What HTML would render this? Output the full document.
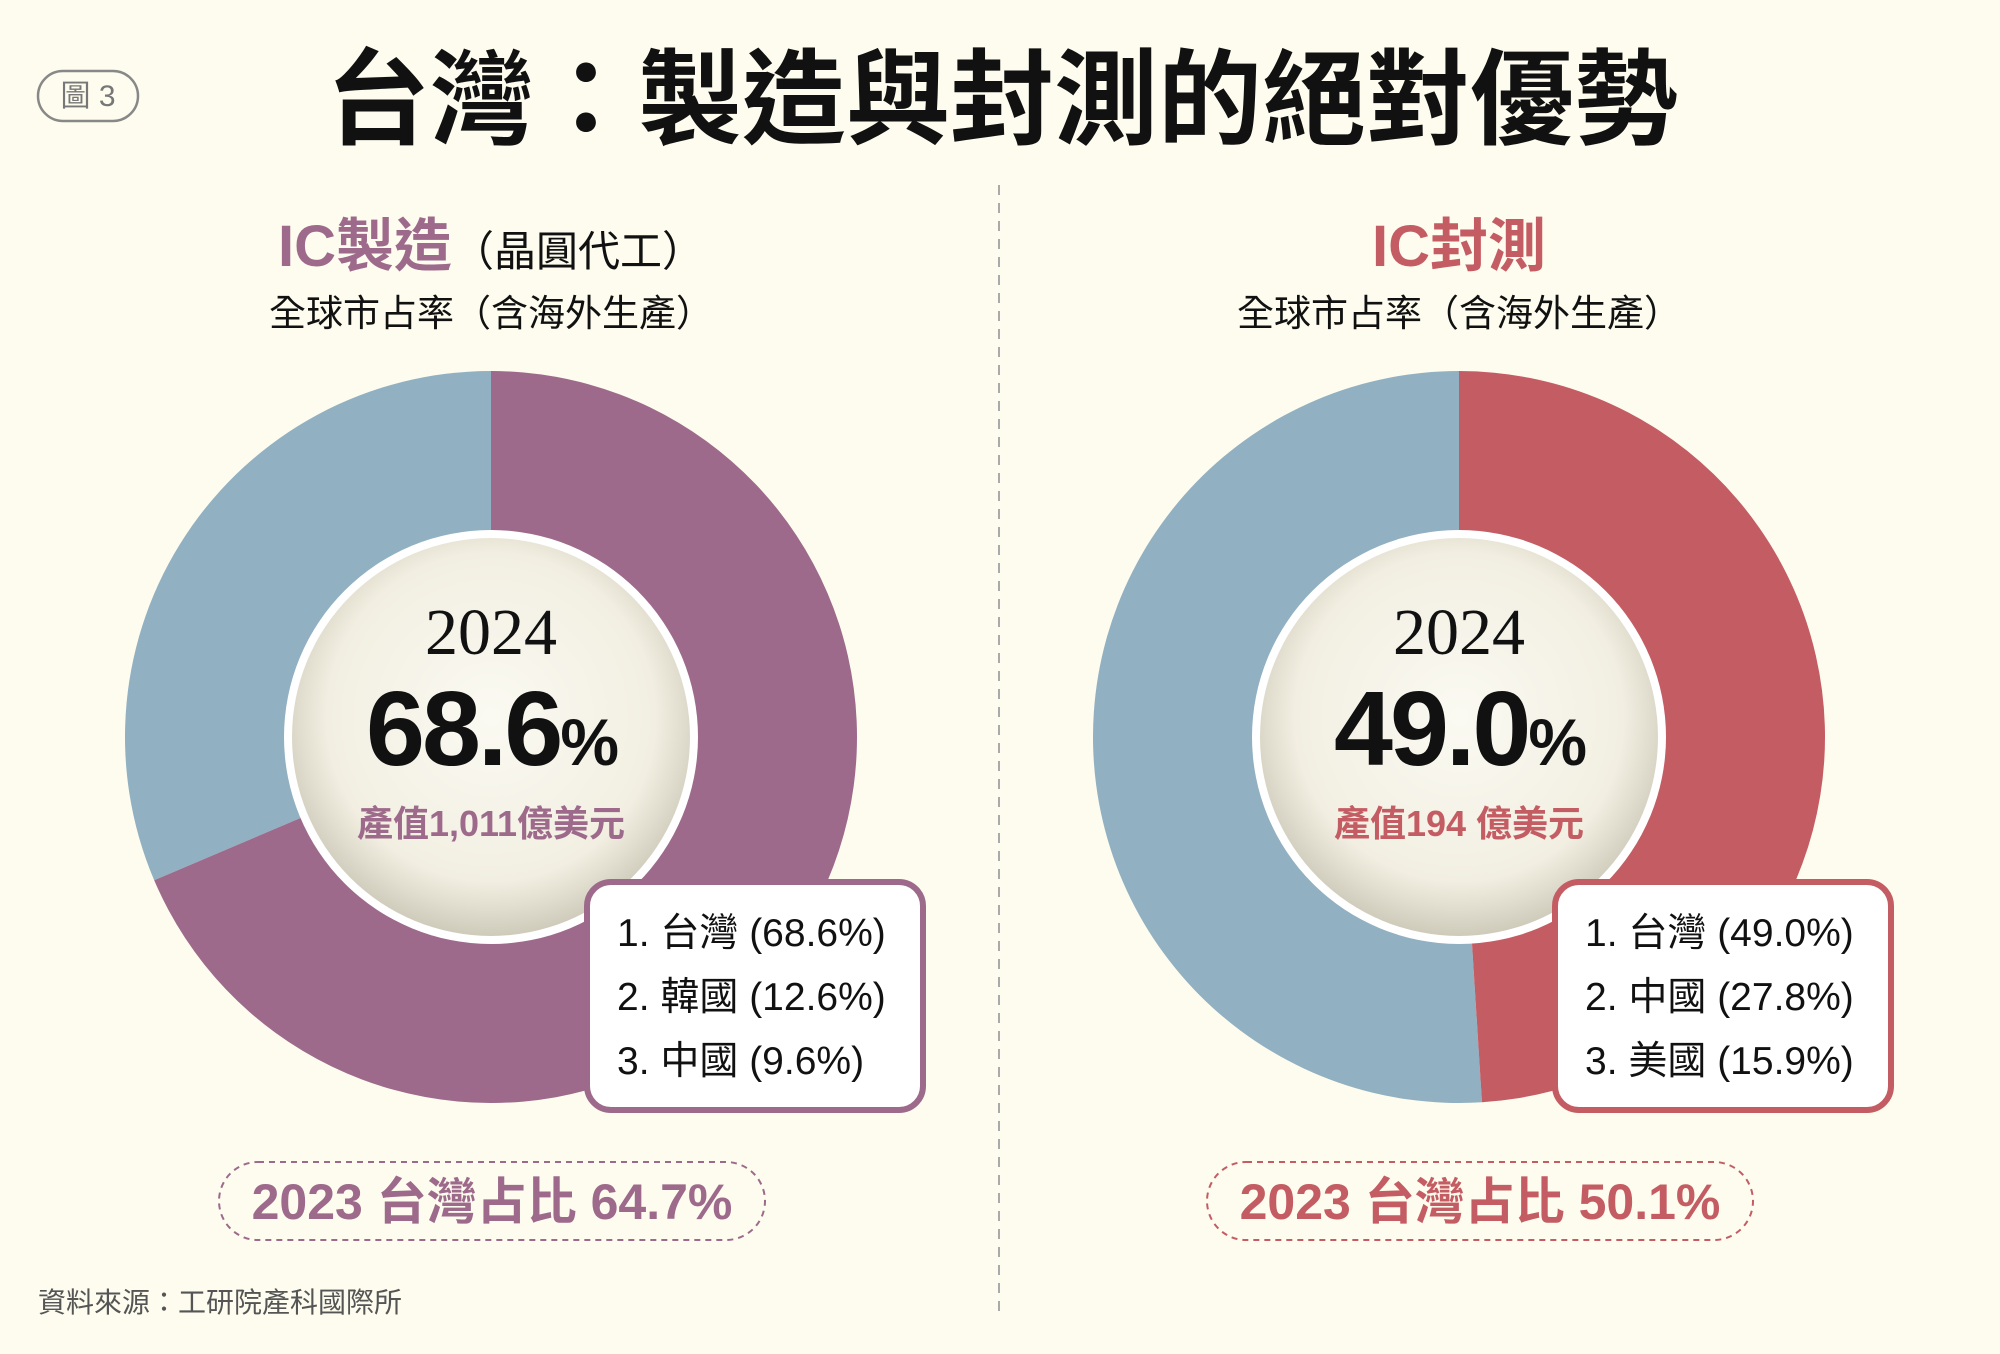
<!DOCTYPE html>
<html><head><meta charset="utf-8"><style>
html,body{margin:0;padding:0;background:#fdfcee;}
svg{display:block}
text{font-family:"Liberation Sans","Noto Sans CJK TC",sans-serif}
.serif{font-family:"Liberation Serif","Noto Serif CJK SC",serif}
</style></head><body>
<svg id="chart" width="2000" height="1354" viewBox="0 0 2000 1354">
<defs>
<radialGradient id="cg" cx="50%" cy="45%" r="55%">
<stop offset="0" stop-color="#fbfaf2"/><stop offset="0.75" stop-color="#f2efe2"/><stop offset="1" stop-color="#cfcbbb"/>
</radialGradient>
</defs>
<rect width="2000" height="1354" fill="#fdfcee"/>
<g>
<rect x="38" y="71" width="100" height="50" rx="25" fill="none" stroke="#888" stroke-width="2.5"/>
<text x="88" y="106" font-size="30" fill="#777" text-anchor="middle">圖 3</text>
</g>
<text x="1002" y="136" font-size="104" font-weight="bold" text-anchor="middle" fill="#111">台灣：製造與封測的絕對優勢</text>
<line x1="999" y1="185" x2="999" y2="1316" stroke="#aaa" stroke-width="2" stroke-dasharray="10 8"/>
<text x="38" y="1312" font-size="28" fill="#555">資料來源：工研院產科國際所</text>
<g id="panels"></g>
</svg>
<script>
const panelTitles = ["IC製造", "IC封測"];
const panelSubs = ["（晶圓代工）", ""];
const taiwanShare = [68.6, 49.0];
const outputValue = ["1,011", "194 "];
const rankLabels = [["1. 台灣 (68.6%)", "2. 韓國 (12.6%)", "3. 中國 (9.6%)"], ["1. 台灣 (49.0%)", "2. 中國 (27.8%)", "3. 美國 (15.9%)"]];
const share2023 = ["64.7%", "50.1%"];
const mainColors = ["#9d6a8b", "#c45c63"];
const otherColor = "#91b0c2";

const NS = "http://www.w3.org/2000/svg";
const root = document.getElementById('panels');
function mk(tag, attrs, parent, txt){
  const e = document.createElementNS(NS, tag);
  for (const k in attrs) e.setAttribute(k, attrs[k]);
  if (txt !== undefined) e.textContent = txt;
  parent.appendChild(e);
  return e;
}
function arc(cx, cy, r, a0, a1){
  const p = a => [cx + r*Math.sin(a), cy - r*Math.cos(a)];
  const [x0,y0] = p(a0), [x1,y1] = p(a1);
  const large = (a1 - a0) > Math.PI ? 1 : 0;
  return `M${cx},${cy} L${x0},${y0} A${r},${r} 0 ${large} 1 ${x1},${y1} Z`;
}
const centers = [491, 1459];
const pillShift = [0, 20];
const cy = 737, R = 366;
panelTitles.forEach((t, i) => {
  const cx = centers[i], col = mainColors[i];
  const g = mk('g', {}, root);
  
  
  const tt = mk('text', {x: cx, y: 266, 'font-size': 58, 'font-weight': 'bold', 'text-anchor': 'middle'}, g);
  
  
  mk('tspan', {fill: col}, tt, t);
  mk('tspan', {fill: '#111', 'font-size': 42, 'font-weight': 'normal'}, tt, panelSubs[i]);
  const st = mk('text', {x: cx, y: 326, 'font-size': 37, 'text-anchor': 'middle', fill: '#111'}, g, '全球市占率（含海外生產）');
  
  
  const ang = taiwanShare[i] / 100 * 2 * Math.PI;
  const other = mk('path', {d: arc(cx, cy, R, ang, 2*Math.PI), fill: otherColor}, g);
  
  
  const main = mk('path', {d: arc(cx, cy, R, 0, ang), fill: col}, g);
  
  
  const ring = mk('circle', {cx, cy, r: 207, fill: '#fff'}, g);
  
  
  const inner = mk('circle', {cx, cy, r: 199, fill: 'url(#cg)'}, g);
  
  
  const yr = mk('text', {x: cx, y: 654, 'font-size': 66, 'text-anchor': 'middle', fill: '#111', class: 'serif'}, g, '2024');
  
  
  const big = mk('text', {x: cx, y: 765, 'font-size': 106, 'font-weight': 'bold', 'text-anchor': 'middle', fill: '#111', 'letter-spacing': '-3'}, g);
  
  
  mk('tspan', {}, big, taiwanShare[i].toFixed(1));
  mk('tspan', {'font-size': 66}, big, '%');
  const ov = mk('text', {x: cx, y: 836, 'font-size': 36, 'font-weight': 'bold', 'text-anchor': 'middle', fill: col}, g, '產值' + outputValue[i] + '億美元');
  
  
  const bx = cx + 96;
  const box = mk('rect', {x: bx, y: 882, width: 336, height: 228, rx: 24, fill: '#fff', stroke: col, 'stroke-width': 6}, g);
  
  
  rankLabels[i].forEach((lab, j) => {
    const lt = mk('text', {x: bx + 30, y: 946 + j*64, 'font-size': 39, fill: '#111'}, g, lab);
    
    
  });
  const px = cx + pillShift[i];
  const pill = mk('rect', {x: px - 272, y: 1162, width: 546, height: 78, rx: 39, fill: 'none', stroke: col, 'stroke-width': 2, 'stroke-dasharray': '6 5'}, g);
  
  
  const pt = mk('text', {x: px + 1, y: 1219, 'font-size': 50, 'font-weight': 'bold', 'text-anchor': 'middle', fill: col}, g, '2023 台灣占比 ' + share2023[i]);
  
  
});
</script>
</body></html>
